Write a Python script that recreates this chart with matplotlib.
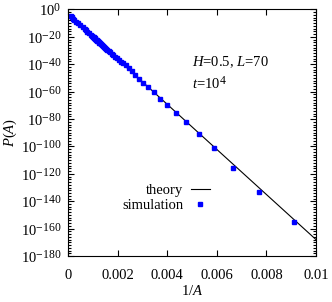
import matplotlib
matplotlib.use("Agg")
import matplotlib.pyplot as plt
import matplotlib._mathtext as mathtext_internal
from matplotlib.ticker import FixedLocator

plt.rcParams["font.family"] = "Liberation Serif"
plt.rcParams["mathtext.fontset"] = "custom"
plt.rcParams["mathtext.rm"] = "Liberation Serif"
plt.rcParams["mathtext.it"] = "Liberation Serif:italic"
# gnuplot-style exponents are a bit larger than mathtext's default
mathtext_internal.SHRINK_FACTOR = 0.8

# simulation: cluster area A and log10 P(A)
sim_A = [110, 130, 150, 170, 190, 210, 230, 250, 270, 290, 310, 330, 350,
         370, 390, 410, 430, 450, 470, 490, 510, 530, 550, 570, 590, 610,
         630, 650, 670, 690, 710, 730, 750, 770, 790, 810, 830, 850, 870,
         890, 910, 930, 950, 970, 990, 1050, 1100, 1200, 1300, 1400, 1500,
         1700, 2000, 2500, 3000, 4000, 5000, 7000, 10000]
sim_logP = [-154.8, -133.4, -115.8, -101.2, -91.0, -82.4, -75.6, -69.5,
            -65.1, -60.3, -56.6, -53.4, -50.7, -48.0, -45.3, -43.1, -40.9,
            -39.4, -38.4, -37.1, -35.8, -34.5, -33.4, -32.4, -31.4, -30.5,
            -29.6, -28.8, -28.1, -27.3, -26.7, -26.0, -25.4, -24.9, -24.3,
            -23.8, -23.3, -22.9, -22.4, -22.0, -21.6, -21.2, -20.8, -20.5,
            -20.1, -19.2, -18.5, -17.2, -16.2, -15.3, -14.5, -13.2, -11.7,
            -10.1, -9.0, -7.6, -6.8, -5.9, -5.1]

# theory: straight line in log P vs 1/A
theory_x = [0.0, 0.01]
theory_logP = [-3.5, -168.0]

xtick_labels = ["0", "0.002", "0.004", "0.006", "0.008", "0.01"]

sim_x = [1.0 / a for a in sim_A]
sim_P = [10.0 ** v for v in sim_logP]
theory_P = [10.0 ** v for v in theory_logP]

fs = 10.5

fig = plt.figure(figsize=(3.32, 3.02), dpi=100)
ax = fig.add_axes([0.205, 0.152, 0.747, 0.817])

ax.plot(theory_x, theory_P, color="black", lw=0.8, label="theory")
ax.plot(sim_x, sim_P, ls="none", marker="s", ms=3.2, color="#0000ff",
        mec="#0000ff", label="simulation")

ax.set_yscale("log")
ax.set_xlim(0, 0.01)
ax.set_ylim(1e-180, 1e0)

ax.set_xticks([0, 0.002, 0.004, 0.006, 0.008, 0.01])
ax.set_xticklabels(xtick_labels)
yt = [10.0 ** (-k) for k in range(0, 181, 20)]
ax.yaxis.set_major_locator(FixedLocator(yt))
ax.set_yticklabels([r"$10^{0}$"] + [r"$10^{-%d}$" % k for k in range(20, 181, 20)])
ax.yaxis.set_minor_locator(FixedLocator([10.0 ** (-k) for k in range(0, 181, 2) if k % 20]))
ax.yaxis.set_minor_formatter(plt.NullFormatter())

ax.tick_params(which="both", direction="in", top=True, right=True,
               labelsize=fs, width=0.8)
ax.tick_params(which="major", length=4)
ax.tick_params(axis="x", pad=9)
ax.tick_params(axis="y", pad=5)
ax.tick_params(which="minor", length=2)
for s in ax.spines.values():
    s.set_linewidth(0.8)

ax.set_xlabel(r"$1/A$", fontsize=fs, labelpad=2)
ax.set_ylabel(r"$P(A)$", fontsize=fs, labelpad=1)

ax.text(0.0050, 10 ** -38.5, r"$H$=0.5, $L$=70", fontsize=fs, va="center")
ax.text(0.0050, 10 ** -54.0, r"$t$=10$^4$", fontsize=fs, va="center")

ax.legend(loc="center right", bbox_to_anchor=(0.60, 0.235), frameon=False,
          markerfirst=False, fontsize=fs, handlelength=1.3, handletextpad=0.5,
          labelspacing=0.1, borderpad=0)

fig.savefig("out.png", dpi=100)
